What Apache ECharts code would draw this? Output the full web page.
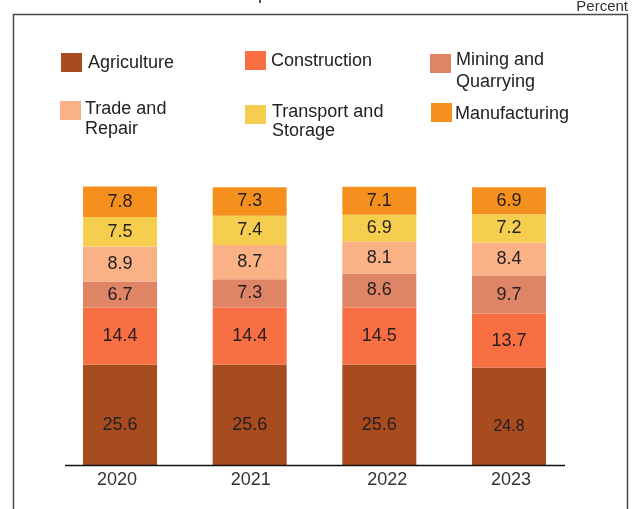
<!DOCTYPE html>
<html>
<head>
<meta charset="utf-8">
<script src="https://cdn.jsdelivr.net/npm/echarts@6/dist/echarts.min.js"></script>
<style>
  html, body { margin: 0; padding: 0; background: #ffffff; }
  #chart { width: 636px; height: 509px; }
</style>
</head>
<body>
<div id="chart"></div>
<script>
// Sector shares of output, percent, by year
const years = ['2020', '2021', '2022', '2023'];
const agriculture   = [25.6, 25.6, 25.6, 24.8];
const construction  = [14.4, 14.4, 14.5, 13.7];
const mining        = [6.7, 7.3, 8.6, 9.7];
const trade         = [8.9, 8.7, 8.1, 8.4];
const transport     = [7.5, 7.4, 6.9, 7.2];
const manufacturing = [7.8, 7.3, 7.1, 6.9];

const sectorNames = ['Agriculture', 'Construction', 'Mining and Quarrying',
  'Trade and Repair', 'Transport and Storage', 'Manufacturing'];
const sectorValues = [agriculture, construction, mining, trade, transport, manufacturing];
const sectorColors = ['#A84B1F', '#F86F43', '#E08466', '#F9B185', '#F6CE4F', '#F5901E'];

const FONT = '"Liberation Sans", Arial, sans-serif';

// small horizontal nudges for the year labels
const yearLabelShift = [-3, 1, 8, 2];

const series = sectorNames.map((name, i) => ({
  name: name,
  type: 'bar',
  stack: 'total',
  barWidth: 74,
  itemStyle: { color: sectorColors[i] },
  label: {
    show: true,
    position: 'inside',
    offset: i === 0 ? [0, 10] : [0, 0],
    color: '#231F20',
    fontFamily: FONT,
    fontSize: 18,
    formatter: p => p.value.toFixed(1)
  },
  data: sectorValues[i].map((v, j) =>
    (i === 0 && j === 3) ? { value: v, label: { fontSize: 16 } } : v)
}));

// Legend layout: swatch box and text anchor for each sector
const legendItems = [
  { label: 'Agriculture',            sx: 61,  sy: 53,  sh: 19, tx: 88,  ty: 63.5, lh: 20 },
  { label: 'Construction',           sx: 245, sy: 51,  sh: 19, tx: 271, ty: 61,   lh: 20 },
  { label: 'Mining and\nQuarrying',  sx: 430, sy: 54,  sh: 19, tx: 456, ty: 71,   lh: 22 },
  { label: 'Trade and\nRepair',      sx: 60,  sy: 101, sh: 19, tx: 85,  ty: 119,  lh: 19.3 },
  { label: 'Transport and\nStorage', sx: 245, sy: 105, sh: 19, tx: 272, ty: 121.5, lh: 19.3 },
  { label: 'Manufacturing',          sx: 431, sy: 103, sh: 19, tx: 455, ty: 114,  lh: 20 }
];

const graphics = [
  // frame around the chart panel
  { type: 'rect', shape: { x: 13.5, y: 14.5, width: 614, height: 520 },
    style: { fill: null, stroke: '#4a4a4a', lineWidth: 1.5 }, z: 0, silent: true },
  // baseline under the bars
  { type: 'line', shape: { x1: 65, y1: 465.5, x2: 565, y2: 465.5 },
    style: { stroke: '#111111', lineWidth: 1.5 }, z: 10, silent: true },
  // unit note
  { type: 'text', x: 628, y: 7,
    style: { text: 'Percent', font: '15px ' + FONT, fill: '#333333',
             textAlign: 'right', textVerticalAlign: 'middle' } },
  // heading above the frame (mostly outside the page)
  { type: 'text', x: 258, y: -5.5,
    style: { text: 'p', font: '18px ' + FONT, fill: '#222222',
             textAlign: 'left', textVerticalAlign: 'middle' } }
];

legendItems.forEach((it, i) => {
  graphics.push({ type: 'rect', shape: { x: it.sx, y: it.sy, width: 21, height: it.sh },
    style: { fill: sectorColors[i] } });
  graphics.push({ type: 'text', x: it.tx, y: it.ty,
    style: { text: it.label, font: '18px ' + FONT, fill: '#222222',
             lineHeight: it.lh, textAlign: 'left', textVerticalAlign: 'middle' } });
});

// rich styles that pad each year label to the side it leans toward
const yearRich = {};
yearLabelShift.forEach((s, k) => {
  yearRich['y' + k] = {
    color: '#333333', fontFamily: FONT, fontSize: 18,
    padding: s >= 0 ? [0, 0, 0, 2 * s] : [0, -2 * s, 0, 0]
  };
});

const chart = echarts.init(document.getElementById('chart'), null, { renderer: 'canvas' });
chart.setOption({
  animation: false,
  backgroundColor: '#ffffff',
  grid: { left: 55.2, right: 62.2, top: 186, bottom: 44, containLabel: false },
  xAxis: {
    type: 'category',
    data: years,
    axisLine: { show: false },
    axisTick: { show: false },
    axisLabel: {
      color: '#333333', fontFamily: FONT, fontSize: 18, margin: 6,
      formatter: (v, idx) => '{y' + idx + '|' + v + '}',
      rich: yearRich
    }
  },
  yAxis: {
    type: 'value',
    min: 0,
    max: 71,
    show: false,
    splitLine: { show: false }
  },
  series: series,
  graphic: graphics
});
</script>
</body>
</html>
